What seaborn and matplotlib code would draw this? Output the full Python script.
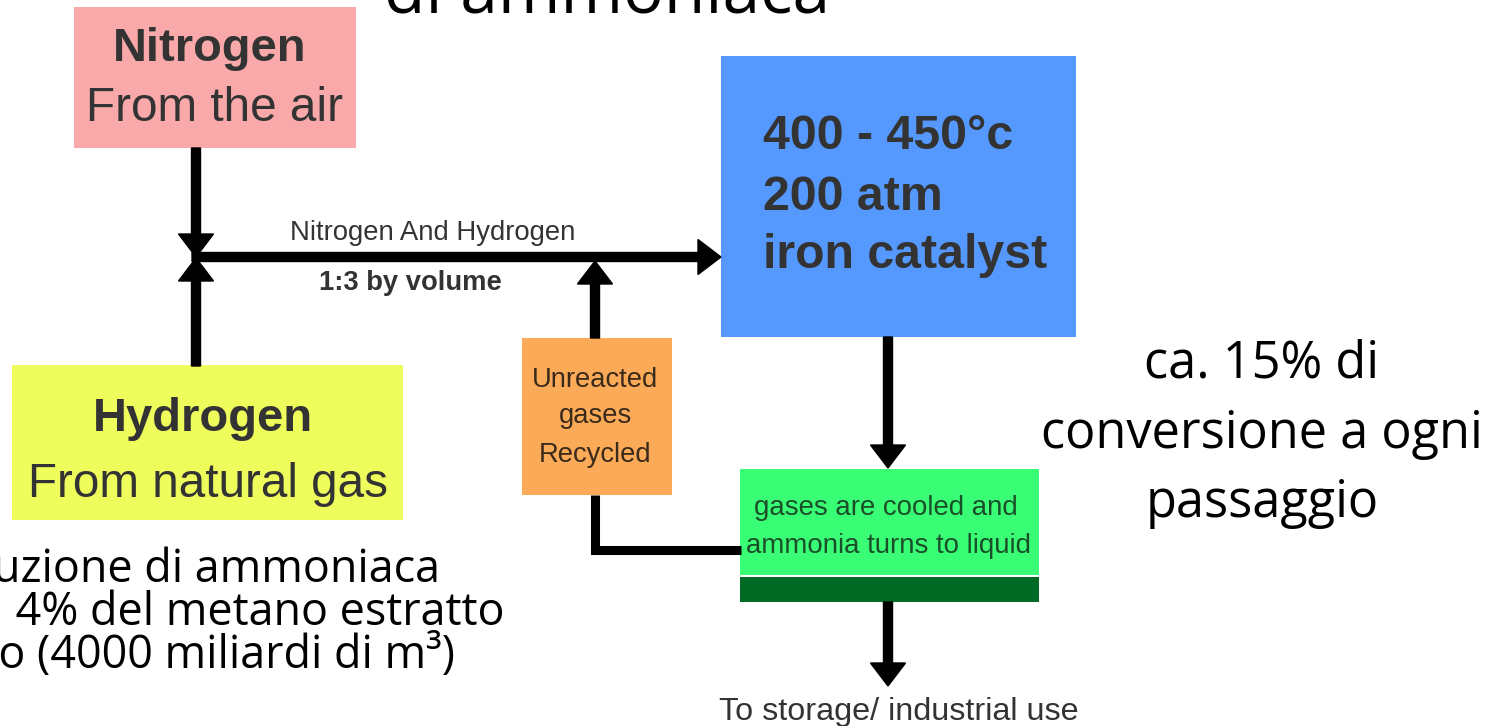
import matplotlib
matplotlib.use("Agg")
import matplotlib.pyplot as plt
from matplotlib.patches import Rectangle
import seaborn as sns

sns.set_theme(style="white")
plt.rcParams["font.family"] = ["Liberation Sans", "DejaVu Sans"]

W, H = 1501, 726

# ── texts ────────────────────────────────────────────────────────────────
title_tail = "di ammoniaca"
nitrogen_lines = ["Nitrogen", "From the air"]
hydrogen_lines = ["Hydrogen", "From natural gas"]
reactor_lines = ["400 - 450°c", "200 atm", "iron catalyst"]
recycle_lines = ["Unreacted", "gases", "Recycled"]
cooler_lines = ["gases are cooled and", "ammonia turns to liquid"]
feed_label = "Nitrogen And Hydrogen"
ratio_label = "1:3 by volume"
output_label = "To storage/ industrial use"
conversion_lines = ["ca. 15% di", "conversione a ogni", "passaggio"]
methane_lines = ["Produzione di ammoniaca",
                 "consuma il 4% del metano estratto",
                 "nel mondo (4000 miliardi di m³)"]

# box colours
C_N2 = "#F9A9A9"
C_H2 = "#EEFC5C"
C_REACT = "#5599FF"
C_RECY = "#FBAA58"
C_COOL = "#39FD74"
C_COOL_BAR = "#006A24"

fig = plt.figure(figsize=(W / 100, H / 100), dpi=100)
ax = fig.add_axes([0, 0, 1, 1])
ax.set_xlim(0, W)
ax.set_ylim(H, 0)
ax.axis("off")
rend = fig.canvas.get_renderer()


def fit_size(s, width, **kw):
    # font size that makes s about `width` pixels wide
    t = ax.text(0, 0, s, fontsize=20, **kw)
    w = t.get_window_extent(rend).width
    t.remove()
    return 20 * width / w


def box(x, y, w, h, color):
    ax.add_patch(Rectangle((x, y), w, h, facecolor=color, edgecolor="none", zorder=1))


def arrow(x0, y0, x1, y1):
    ax.arrow(x0, y0, x1 - x0, y1 - y0, width=9, head_width=35, head_length=23,
             length_includes_head=True, color="black", zorder=3)


def lines(xs, ys, sizes, strs, ha="center", **kw):
    for x, y, s in zip(xs, ys, strs):
        ax.text(x, y, s, fontsize=sizes, ha=ha, va="baseline", **kw)


# boxes
box(74, 7, 282, 141, C_N2)
box(12, 365, 391, 155, C_H2)
box(721, 56, 355, 281, C_REACT)
box(522, 338, 150, 157, C_RECY)
box(740, 469, 299, 106, C_COOL)
box(740, 577, 299, 25, C_COOL_BAR)

# arrows
arrow(196, 148, 196, 257)
arrow(196, 366, 196, 258)
arrow(192, 257, 721, 257)
arrow(595, 338, 595, 261)
arrow(888, 337, 888, 468)
arrow(888, 602, 888, 686)
ax.plot([595, 595, 741], [495, 550, 550], color="black", lw=6.5,
        solid_joinstyle="miter", solid_capstyle="butt", zorder=3)

dark = "#333333"

# nitrogen / hydrogen boxes
fs = fit_size(nitrogen_lines[0], 193, fontweight="bold")
ax.text(210, 61, nitrogen_lines[0], fontsize=fs, fontweight="bold",
        ha="center", va="baseline", color=dark)
fs = fit_size(nitrogen_lines[1], 257)
ax.text(215, 121, nitrogen_lines[1], fontsize=fs,
        ha="center", va="baseline", color=dark)

fs = fit_size(hydrogen_lines[0], 220, fontweight="bold")
ax.text(203, 431, hydrogen_lines[0], fontsize=fs, fontweight="bold",
        ha="center", va="baseline", color=dark)
fs = fit_size(hydrogen_lines[1], 359)
ax.text(207.5, 497, hydrogen_lines[1], fontsize=fs,
        ha="center", va="baseline", color=dark)

# reactor
fs = fit_size(reactor_lines[2], 284, fontweight="bold")
lines([763] * 3, [149, 210, 268], fs, reactor_lines, ha="left",
      fontweight="bold", color=dark)

# recycle
fs = fit_size(recycle_lines[0], 126)
lines([595] * 3, [387, 423, 462], fs, recycle_lines, color="#3A2A1A")

# cooler
fs = fit_size(cooler_lines[1], 285)
lines([885.5, 888.5], [515, 553], fs, cooler_lines, color="#1A4F29")

# flow labels
fs = fit_size(feed_label, 285)
ax.text(432.5, 240, feed_label, fontsize=fs, ha="center", va="baseline", color=dark)
fs = fit_size(ratio_label, 182, fontweight="bold")
ax.text(410, 290, ratio_label, fontsize=fs, fontweight="bold", ha="center",
        va="baseline", color=dark)
fs = fit_size(output_label, 359)
ax.text(898.5, 720, output_label, fontsize=fs, ha="center", va="baseline", color=dark)

# slide text (Calibri-like)
slide = ["Open Sans", "DejaVu Sans"]
fs = fit_size(title_tail, 445, family=slide)
ax.text(607.5, 13, title_tail, fontsize=fs, family=slide, ha="center",
        va="baseline", color="black")

fs = fit_size(conversion_lines[1], 441, family=slide)
lines([1262] * 3, [377, 448, 517], fs, conversion_lines, family=slide, color="black")

fs = fit_size("4% del metano estratto", 487, family=slide)
lines([440, 505, 455], [582, 625, 668], fs, methane_lines, ha="right",
      family=slide, color="black")

fig.savefig("out.png", dpi=100)
